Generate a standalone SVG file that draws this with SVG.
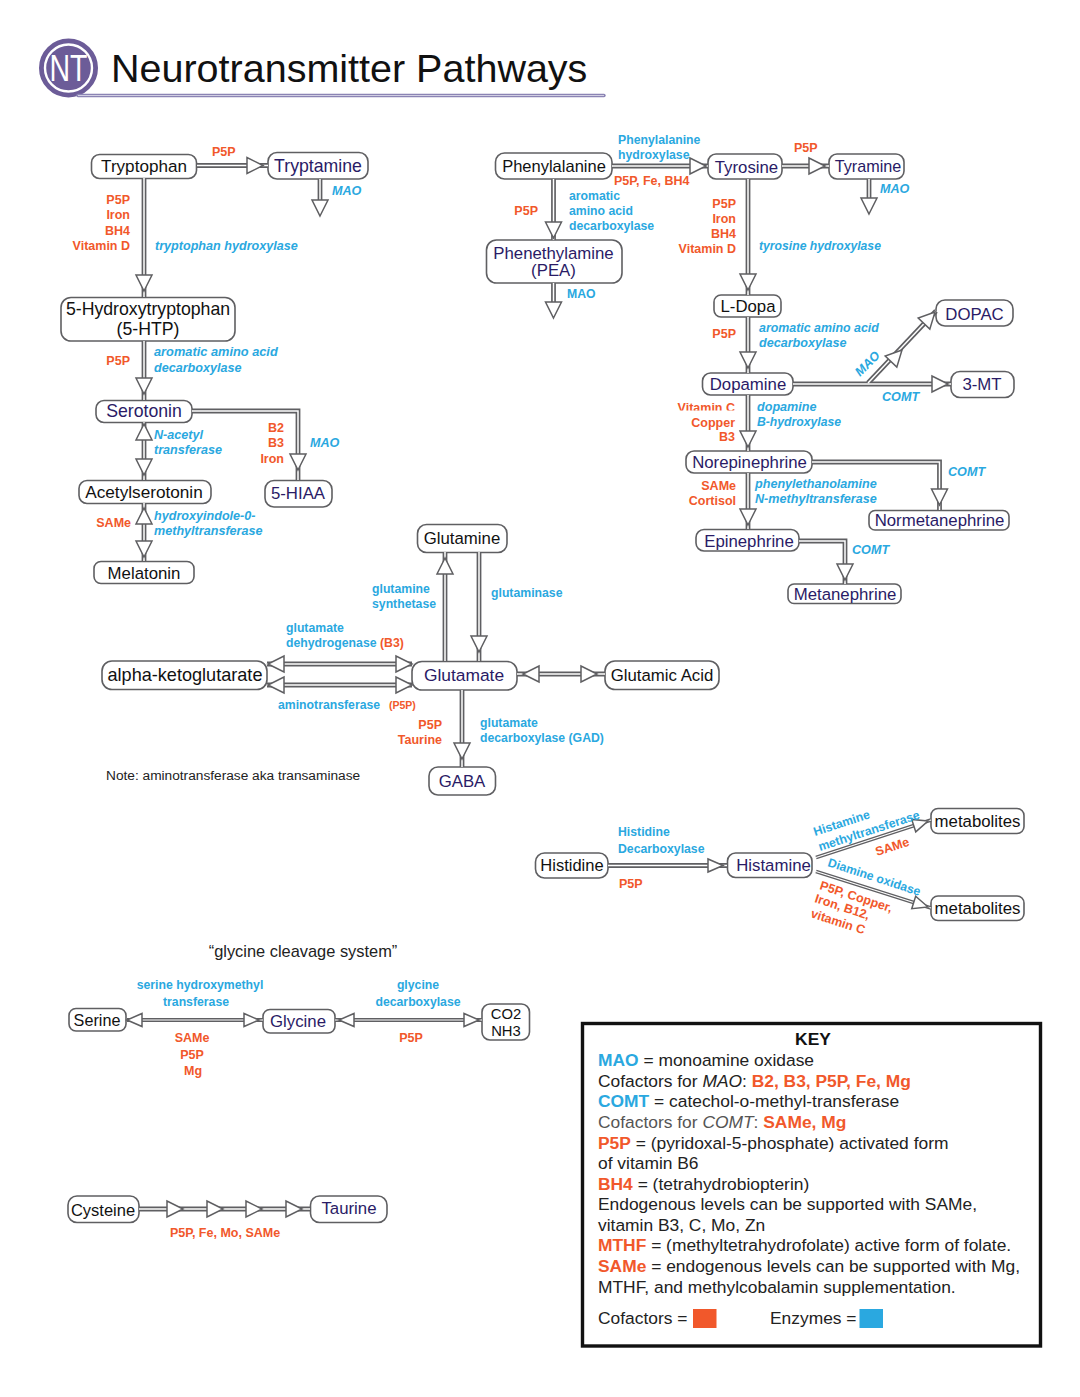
<svg xmlns="http://www.w3.org/2000/svg" width="1080" height="1397" viewBox="0 0 1080 1397">
<style>
text{font-family:"Liberation Sans",Arial,sans-serif}
.node rect{fill:#fff;stroke:#5f5f62;stroke-width:1.6}
.node text{font-size:16.800px;text-anchor:middle}
.node text.w{font-size:17.700px}
.k{fill:#111}
.n{fill:#2a1b66}
.c,.e,.ei{font-weight:700}
.c{font-size:12.500px;fill:#f1582b}
.e{font-size:12.250px;fill:#2aa8e0}
.ei{font-size:12.600px;fill:#2aa8e0;font-style:italic}
.r{text-anchor:end}
.m{text-anchor:middle}
.o path,.ot path{fill:none;stroke:#5f5f62;stroke-width:4.800}
.i path,.it path{fill:none;stroke:#fff;stroke-width:1.500}
.ot path{stroke-width:3.800}
.it path{stroke-width:1.200}
.h{fill:#fff;stroke:#5f5f62;stroke-width:1.500;stroke-linejoin:miter}
.key text{font-size:17.400px;fill:#222}
.key .b{font-weight:700}
.key .bc{font-weight:700;fill:#f1582b}
.key .be{font-weight:700;fill:#2aa8e0}
</style>
<defs>
<polygon id="a" class="h" points="0,0 -16,-8 -16,8"/>
<polygon id="s" class="h" points="0,0 -15,-6.500 -15,6.500"/>
<clipPath id="vc"><rect x="660" y="395" width="90" height="15.500"/></clipPath>
</defs>

<g id="title">
<circle cx="68.500" cy="68" r="27.500" fill="#6c5c98" stroke="#6c5c98" stroke-width="4"/>
<circle cx="68.500" cy="68" r="23.500" fill="#6c5c98" stroke="#fff" stroke-width="2.400"/>
<text x="68.500" y="81" font-size="36" fill="#fff" text-anchor="middle" textLength="38" lengthAdjust="spacingAndGlyphs">NT</text>
<path d="M78 95.500H604" stroke="#8b84b4" stroke-width="3.400" stroke-linecap="round" fill="none"/>
<path d="M78 95.500H604" stroke="#e4e2ef" stroke-width="0.800" fill="none"/>
<text x="111" y="81.500" font-size="39.500" fill="#111">Neurotransmitter Pathways</text>
</g>

<g id="nodes">
<g id="n-tryptophan" class="node"><rect x="91.500" y="154.500" width="105" height="24" rx="8"/><text class="k" x="144" y="172" style="font-size:17.100px">Tryptophan</text></g>
<g id="n-tryptamine" class="node"><rect x="268" y="152.500" width="100" height="26.500" rx="9"/><text class="n w" x="318" y="172">Tryptamine</text></g>
<g id="n-5htp" class="node"><rect x="61" y="297.500" width="174" height="43.500" rx="10"/><text class="k w" x="148" y="315">5-Hydroxytryptophan</text><text class="k w" x="148" y="335">(5-HTP)</text></g>
<g id="n-serotonin" class="node"><rect x="96" y="400.500" width="96" height="22" rx="8"/><text class="n w" x="144" y="417">Serotonin</text></g>
<g id="n-acetylserotonin" class="node"><rect x="79" y="480.500" width="132" height="23" rx="8"/><text class="k" x="144" y="498" style="font-size:17.200px">Acetylserotonin</text></g>
<g id="n-melatonin" class="node"><rect x="94" y="561.500" width="100" height="22" rx="7"/><text class="k" x="144" y="579">Melatonin</text></g>
<g id="n-5hiaa" class="node"><rect x="265" y="480.500" width="67" height="26.500" rx="9"/><text class="n" x="298" y="499">5-HIAA</text></g>
<g id="n-phenylalanine" class="node"><rect x="495.500" y="153" width="116.500" height="26" rx="9"/><text class="k" x="554" y="172" style="font-size:16.500px">Phenylalanine</text></g>
<g id="n-tyrosine" class="node"><rect x="708" y="154" width="74" height="25" rx="8"/><text class="n" x="746.500" y="173">Tyrosine</text></g>
<g id="n-tyramine" class="node"><rect x="829" y="154" width="75" height="25" rx="8"/><text class="n" x="868" y="172" style="font-size:16.200px">Tyramine</text></g>
<g id="n-pea" class="node"><rect x="486.500" y="240" width="135.500" height="43" rx="10"/><text class="n" x="553.500" y="259">Phenethylamine</text><text class="n" x="553.500" y="276">(PEA)</text></g>
<g id="n-ldopa" class="node"><rect x="714" y="295" width="67" height="22" rx="7"/><text class="k" x="748" y="312">L-Dopa</text></g>
<g id="n-dopamine" class="node"><rect x="702.500" y="373" width="90.500" height="22" rx="8"/><text class="n" x="748" y="390">Dopamine</text></g>
<g id="n-dopac" class="node"><rect x="936" y="300" width="77" height="26" rx="9"/><text class="n" x="974.500" y="320">DOPAC</text></g>
<g id="n-3mt" class="node"><rect x="951" y="371.500" width="63" height="26" rx="9"/><text class="n" x="982" y="390">3-MT</text></g>
<g id="n-norepinephrine" class="node"><rect x="686" y="451" width="126" height="22" rx="8"/><text class="n" x="749.500" y="468">Norepinephrine</text></g>
<g id="n-normetanephrine" class="node"><rect x="869" y="510.500" width="140" height="19.500" rx="6"/><text class="n" x="939.500" y="526">Normetanephrine</text></g>
<g id="n-epinephrine" class="node"><rect x="696" y="529.500" width="103" height="21.500" rx="8"/><text class="n" x="749" y="547">Epinephrine</text></g>
<g id="n-metanephrine" class="node"><rect x="788" y="584" width="113" height="19.500" rx="6"/><text class="n" x="845" y="600">Metanephrine</text></g>
<g id="n-glutamine" class="node"><rect x="417.500" y="524.500" width="89.500" height="28" rx="9"/><text class="k" x="462" y="544">Glutamine</text></g>
<g id="n-glutamate" class="node"><rect x="412" y="661.500" width="105" height="28.500" rx="10"/><text class="n w" x="464" y="681" style="font-size:17.400px">Glutamate</text></g>
<g id="n-akg" class="node"><rect x="102" y="661" width="165" height="28.500" rx="10"/><text class="k" x="185" y="681" style="font-size:18.100px">alpha-ketoglutarate</text></g>
<g id="n-glutamic" class="node"><rect x="605" y="661" width="114" height="28.500" rx="10"/><text class="k" x="662" y="681">Glutamic Acid</text></g>
<g id="n-gaba" class="node"><rect x="429" y="767" width="66.500" height="28" rx="9"/><text class="n" x="462" y="787">GABA</text></g>
<g id="n-histidine" class="node"><rect x="535.500" y="853" width="72.500" height="25" rx="9"/><text class="k" x="572" y="871" style="font-size:16.500px">Histidine</text></g>
<g id="n-histamine" class="node"><rect x="727.500" y="853" width="84.500" height="24.500" rx="8"/><text class="n" x="773.500" y="871">Histamine</text></g>
<g id="n-metabolites1" class="node"><rect x="931" y="808.500" width="93" height="25" rx="7"/><text class="k" x="977.500" y="827">metabolites</text></g>
<g id="n-metabolites2" class="node"><rect x="931" y="896" width="93" height="24.500" rx="7"/><text class="k" x="977.500" y="914">metabolites</text></g>
<g id="n-serine" class="node"><rect x="69" y="1008.500" width="57" height="22.500" rx="7"/><text class="k" x="97" y="1026" style="font-size:16.200px">Serine</text></g>
<g id="n-glycine" class="node"><rect x="263" y="1009.500" width="72" height="23.500" rx="7"/><text class="n" x="298" y="1027">Glycine</text></g>
<g id="n-co2" class="node"><rect x="482" y="1004" width="47.500" height="36" rx="8"/><text class="k" x="506" y="1019" style="font-size:14.800px">CO2</text><text class="k" x="506" y="1036" style="font-size:14.800px">NH3</text></g>
<g id="n-cysteine" class="node"><rect x="68" y="1196" width="71" height="26.500" rx="9"/><text class="k" x="103" y="1216" style="font-size:16.500px">Cysteine</text></g>
<g id="n-taurine" class="node"><rect x="310.500" y="1196" width="76.500" height="26.500" rx="9"/><text class="n" x="349" y="1214">Taurine</text></g>
</g>

<g id="connectors">
<g class="o">
<path d="M197 165.500H268"/><path d="M320 179V201"/><path d="M144 178V297"/><path d="M144 341V400"/><path d="M144 422V480"/><path d="M144 503V561"/><path d="M192 411H298V480"/>
<path d="M612 166H708"/><path d="M782 166H829"/><path d="M869 179V199"/><path d="M553.500 179V240"/><path d="M553.500 283V303"/><path d="M748 179V295"/><path d="M748 317V373"/>
<path d="M793 384H951"/><path d="M868 383L936 311"/><path d="M748 395V451"/><path d="M748 473V529"/><path d="M812 462H939.500V510"/><path d="M799 541H845V584"/>
<path d="M445 661V552"/><path d="M479 552V661"/><path d="M267 664H412"/><path d="M267 685H412"/><path d="M517 674H605"/><path d="M462 690V767"/>
<path d="M608 865.500H727"/><path d="M139 1209H310"/>
</g>
<g class="ot">
<path d="M127 1020H263"/><path d="M335 1020H482"/><path d="M816 857.500L931 820"/><path d="M816 871.500L931 908"/>
</g>
<g class="i">
<path d="M197 165.500H268"/><path d="M320 179V201"/><path d="M144 178V297"/><path d="M144 341V400"/><path d="M144 422V480"/><path d="M144 503V561"/><path d="M192 411H298V480"/>
<path d="M612 166H708"/><path d="M782 166H829"/><path d="M869 179V199"/><path d="M553.500 179V240"/><path d="M553.500 283V303"/><path d="M748 179V295"/><path d="M748 317V373"/>
<path d="M793 384H951"/><path d="M868 383L936 311"/><path d="M748 395V451"/><path d="M748 473V529"/><path d="M812 462H939.500V510"/><path d="M799 541H845V584"/>
<path d="M445 661V552"/><path d="M479 552V661"/><path d="M267 664H412"/><path d="M267 685H412"/><path d="M517 674H605"/><path d="M462 690V767"/>
<path d="M608 865.500H727"/><path d="M139 1209H310"/>
</g>
<g class="it">
<path d="M127 1020H263"/><path d="M335 1020H482"/><path d="M816 857.500L931 820"/><path d="M816 871.500L931 908"/>
</g>
<g id="heads">
<use href="#a" transform="translate(263 165.500)"/>
<use href="#a" transform="translate(320 216) rotate(90)"/>
<use href="#a" transform="translate(144 291) rotate(90)"/>
<use href="#a" transform="translate(144 394) rotate(90)"/>
<use href="#a" transform="translate(144 424) rotate(-90)"/>
<use href="#a" transform="translate(144 475) rotate(90)"/>
<use href="#a" transform="translate(144 508) rotate(-90)"/>
<use href="#a" transform="translate(144 557) rotate(90)"/>
<use href="#a" transform="translate(298 470) rotate(90)"/>
<use href="#a" transform="translate(706 166)"/>
<use href="#a" transform="translate(825 166)"/>
<use href="#a" transform="translate(869 214) rotate(90)"/>
<use href="#a" transform="translate(553.500 238) rotate(90)"/>
<use href="#a" transform="translate(553.500 318) rotate(90)"/>
<use href="#a" transform="translate(748 290) rotate(90)"/>
<use href="#a" transform="translate(748 368) rotate(90)"/>
<use href="#a" transform="translate(948 384)"/>
<use href="#a" transform="translate(902 350) rotate(-46.600)"/>
<use href="#a" transform="translate(935 312) rotate(-46.600)"/>
<use href="#a" transform="translate(748 447) rotate(90)"/>
<use href="#a" transform="translate(748 525) rotate(90)"/>
<use href="#a" transform="translate(939.500 505) rotate(90)"/>
<use href="#a" transform="translate(845 580) rotate(90)"/>
<use href="#a" transform="translate(445 558) rotate(-90)"/>
<use href="#a" transform="translate(479 652) rotate(90)"/>
<use href="#a" transform="translate(268 664) rotate(180)"/>
<use href="#a" transform="translate(268 685) rotate(180)"/>
<use href="#a" transform="translate(412 664)"/>
<use href="#a" transform="translate(412 685)"/>
<use href="#a" transform="translate(523 674) rotate(180)"/>
<use href="#a" transform="translate(597 674)"/>
<use href="#a" transform="translate(462 759) rotate(90)"/>
<use href="#s" transform="translate(723 865.500)"/>
<use href="#s" transform="translate(928 821) rotate(-18)"/>
<use href="#s" transform="translate(928 907) rotate(17.600)"/>
<use href="#s" transform="translate(127 1020) rotate(180)"/>
<use href="#s" transform="translate(259 1020)"/>
<use href="#s" transform="translate(339 1020) rotate(180)"/>
<use href="#s" transform="translate(479 1020)"/>
<use href="#a" transform="translate(183 1209)"/>
<use href="#a" transform="translate(223 1209)"/>
<use href="#a" transform="translate(262 1209)"/>
<use href="#a" transform="translate(302 1209)"/>
</g>
</g>

<g id="labels">
<text class="c" x="212" y="156">P5P</text>
<text class="c r" x="130" y="204">P5P</text><text class="c r" x="130" y="219">Iron</text><text class="c r" x="130" y="235">BH4</text><text class="c r" x="130" y="250">Vitamin D</text>
<text class="ei" x="155" y="250">tryptophan hydroxylase</text>
<text class="ei" x="332" y="195">MAO</text>
<text class="c r" x="130" y="365">P5P</text>
<text class="ei" x="154" y="356" style="font-size:12.800px">aromatic amino acid</text><text class="ei" x="154" y="372">decarboxylase</text>
<text class="ei" x="154" y="439">N-acetyl</text><text class="ei" x="154" y="454">transferase</text>
<text class="c r" x="284" y="432">B2</text><text class="c r" x="284" y="447">B3</text><text class="c r" x="284" y="463">Iron</text>
<text class="ei" x="310" y="447">MAO</text>
<text class="c r" x="131" y="527">SAMe</text>
<text class="ei" x="154" y="520">hydroxyindole-0-</text><text class="ei" x="154" y="535">methyltransferase</text>

<text class="e" x="618" y="144">Phenylalanine</text><text class="e" x="618" y="159">hydroxylase</text>
<text class="c" x="614" y="185">P5P, Fe, BH4</text>
<text class="e" x="569" y="200">aromatic</text><text class="e" x="569" y="215">amino acid</text><text class="e" x="569" y="230">decarboxylase</text>
<text class="c r" x="538" y="215">P5P</text>
<text class="e" x="567" y="298">MAO</text>
<text class="c" x="794" y="152">P5P</text>
<text class="ei" x="880" y="193">MAO</text>
<text class="c r" x="736" y="208">P5P</text><text class="c r" x="736" y="223">Iron</text><text class="c r" x="736" y="238">BH4</text><text class="c r" x="736" y="253">Vitamin D</text>
<text class="ei" x="759" y="250" style="font-size:12.200px">tyrosine hydroxylase</text>
<text class="c r" x="736" y="338">P5P</text>
<text class="ei" x="759" y="332" style="font-size:12.400px">aromatic amino acid</text><text class="ei" x="759" y="347">decarboxylase</text>
<text class="ei" transform="translate(860 377) rotate(-45)">MAO</text>
<text class="ei" x="882" y="401">COMT</text>
<text class="c r" x="735" y="412" clip-path="url(#vc)">Vitamin C</text><text class="c r" x="735" y="427">Copper</text><text class="c r" x="735" y="441">B3</text>
<text class="ei" x="757" y="411">dopamine</text><text class="ei" x="757" y="426" style="font-size:12.200px">B-hydroxylase</text>
<text class="c r" x="736" y="490">SAMe</text><text class="c r" x="736" y="505">Cortisol</text>
<text class="ei" x="755" y="488">phenylethanolamine</text><text class="ei" x="755" y="503">N-methyltransferase</text>
<text class="ei" x="948" y="476">COMT</text>
<text class="ei" x="852" y="554">COMT</text>

<text class="e" x="372" y="593">glutamine</text><text class="e" x="372" y="608">synthetase</text>
<text class="e" x="491" y="597">glutaminase</text>
<text class="e" x="286" y="632">glutamate</text>
<text class="e" x="286" y="647">dehydrogenase <tspan class="c" style="font-size:12.250px">(B3)</tspan></text>
<text class="e" x="278" y="709">aminotransferase</text><text class="c" x="389" y="709" style="font-size:10.500px">(P5P)</text>
<text class="c r" x="442" y="729">P5P</text><text class="c r" x="442" y="744">Taurine</text>
<text class="e" x="480" y="727">glutamate</text><text class="e" x="480" y="742">decarboxylase (GAD)</text>
<text x="106" y="780" font-size="13.700" fill="#222">Note: aminotransferase aka transaminase</text>

<text class="e" x="618" y="836">Histidine</text><text class="e" x="618" y="853">Decarboxylase</text>
<text class="c" x="619" y="888">P5P</text>
<text class="e" transform="translate(815 836) rotate(-18)">Histamine</text>
<text class="e" transform="translate(820 851) rotate(-18)">methyltransferase</text>
<text class="c" transform="translate(877 856) rotate(-18)">SAMe</text>
<text class="e" transform="translate(827 866) rotate(18)">Diamine oxidase</text>
<text class="c" transform="translate(819 889) rotate(18)">P5P, Copper,</text>
<text class="c" transform="translate(814 902) rotate(18)">Iron, B12,</text>
<text class="c" transform="translate(810 917) rotate(18)">vitamin C</text>

<text x="303" y="957" font-size="16.400" fill="#222" text-anchor="middle">“glycine cleavage system”</text>
<text class="e m" x="200" y="989">serine hydroxymethyl</text><text class="e m" x="196" y="1006">transferase</text>
<text class="c m" x="192" y="1042">SAMe</text><text class="c m" x="192" y="1059">P5P</text><text class="c m" x="193" y="1075">Mg</text>
<text class="e m" x="418" y="989">glycine</text><text class="e m" x="418" y="1006">decarboxylase</text>
<text class="c m" x="411" y="1042">P5P</text>
<text class="c m" x="225" y="1237">P5P, Fe, Mo, SAMe</text>
</g>

<g id="key" class="key">
<rect x="582.500" y="1023.500" width="458" height="322.500" fill="#fff" stroke="#111" stroke-width="3.400"/>
<text class="b" x="813" y="1045" text-anchor="middle" style="fill:#111">KEY</text>
<text x="598" y="1066"><tspan class="be">MAO</tspan> = monoamine oxidase</text>
<text x="598" y="1087">Cofactors for <tspan font-style="italic">MAO</tspan>: <tspan class="bc">B2, B3, P5P, Fe, Mg</tspan></text>
<text x="598" y="1107"><tspan class="be">COMT</tspan> = catechol-o-methyl-transferase</text>
<text x="598" y="1128" style="fill:#555">Cofactors for <tspan font-style="italic">COMT</tspan>: <tspan class="bc">SAMe, Mg</tspan></text>
<text x="598" y="1149"><tspan class="bc">P5P</tspan> = (pyridoxal-5-phosphate) activated form</text>
<text x="598" y="1169">of vitamin B6</text>
<text x="598" y="1190"><tspan class="bc">BH4</tspan> = (tetrahydrobiopterin)</text>
<text x="598" y="1210">Endogenous levels can be supported with SAMe,</text>
<text x="598" y="1231">vitamin B3, C, Mo, Zn</text>
<text x="598" y="1251"><tspan class="bc">MTHF</tspan> = (methyltetrahydrofolate) active form of folate.</text>
<text x="598" y="1272"><tspan class="bc">SAMe</tspan> = endogenous levels can be supported with Mg,</text>
<text x="598" y="1293">MTHF, and methylcobalamin supplementation.</text>
<text x="598" y="1324">Cofactors =</text>
<rect x="693" y="1309" width="23.500" height="19" fill="#f1582b"/>
<text x="770" y="1324">Enzymes =</text>
<rect x="859.500" y="1309" width="23.500" height="19" fill="#2aa8e0"/>
</g>
</svg>
